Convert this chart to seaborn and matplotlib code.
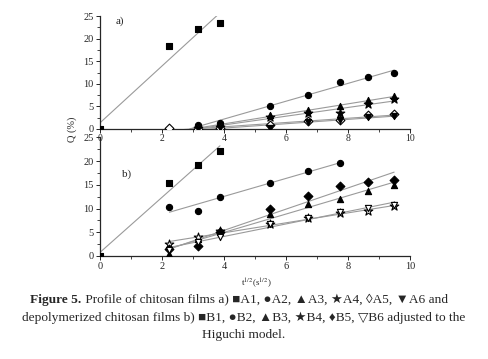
import numpy as np
import seaborn as sns
import matplotlib.pyplot as plt
from matplotlib.text import Annotation
from matplotlib.ticker import MultipleLocator

# sqrt(time) sampling points
t_half = [0, 2.24, 3.16, 3.87, 5.48, 6.71, 7.75, 8.66, 9.49]

# panel a) chitosan films
a1 = [0, 18.3, 22.1, 23.4]
a2 = [0.9, 1.3, 5.0, 7.6, 10.3, 11.5, 12.5]
a3 = [0.4, 0.6, 3.0, 4.2, 5.0, 6.4, 7.2]
a4 = [0.3, 0.5, 2.6, 3.6, 3.5, 5.6, 6.6]
a5 = [0.2, 0.0, 0.1, 0.8, 1.7, 1.9, 3.0, 3.3]
a6 = [0.0, 0.2, 0.3, 1.6, 2.0, 2.6, 2.8]

# panel b) depolymerized chitosan films
b1 = [0, 15.5, 19.3, 22.1]
b2 = [10.4, 9.4, 12.4, 15.5, 17.9, 19.7]
b3 = [0.5, 3.5, 5.0, 8.8, 11.0, 12.0, 13.7, 15.0]
b4 = [2.5, 4.0, 5.2, 6.7, 8.0, 9.0, 9.4, 10.5]
b5 = [1.5, 2.0, 5.0, 10.0, 12.7, 14.7, 15.7, 16.0]
b6 = [1.2, 3.0, 4.0, 6.8, 8.1, 9.2, 10.1, 10.8]

panel_a = {
    "A1": (t_half[:4], a1, "s", "black"),
    "A2": (t_half[2:], a2, "o", "black"),
    "A3": (t_half[2:], a3, "^", "black"),
    "A4": (t_half[2:], a4, "*", "black"),
    "A5": (t_half[1:], a5, "D", "white"),
    "A6": (t_half[2:], a6, "v", "black"),
}
panel_b = {
    "B1": (t_half[:4], b1, "s", "black"),
    "B2": (t_half[1:7], b2, "o", "black"),
    "B3": (t_half[1:], b3, "^", "black"),
    "B4": (t_half[1:], b4, "*", "white"),
    "B5": (t_half[1:], b5, "D", "black"),
    "B6": (t_half[1:], b6, "v", "white"),
}

sns.set_style("ticks")
serif = ["Liberation Serif", "DejaVu Serif", "DejaVu Sans"]
plt.rcParams["font.family"] = serif
plt.rcParams["mathtext.fontset"] = "stix"

fig = plt.figure(figsize=(4.88, 3.59), dpi=100)
ax_b = fig.add_axes([0.205, 0.287, 0.635, 0.330])
ax_a = fig.add_axes([0.205, 0.641, 0.635, 0.314])


def draw_panel(ax, series, label, label_pos, fit_from_root):
    for name, (x, q, marker, face) in series.items():
        x = np.asarray(x, dtype=float)
        q = np.asarray(q, dtype=float)
        slope, icpt = np.polyfit(x, q, 1)
        x0 = x.min()
        if fit_from_root and x0 > 0:
            root = -icpt / slope
            x0 = min(max(root, 2.24), x0)
        xl = np.array([x0, x.max()])
        sns.lineplot(x=xl, y=slope * xl + icpt, ax=ax, color="#9a9a9a",
                     linewidth=0.8, zorder=1)
        size = 42 if marker == "*" else 20
        sns.scatterplot(x=x, y=q, ax=ax, marker=marker, s=size,
                        facecolor=face, edgecolor="black", linewidth=0.8,
                        zorder=3, legend=False)
    ax.set_xlim(0, 10)
    ax.set_ylim(0, 25)
    ax.xaxis.set_major_locator(MultipleLocator(2))
    ax.xaxis.set_minor_locator(MultipleLocator(1))
    ax.yaxis.set_major_locator(MultipleLocator(5))
    ax.yaxis.set_minor_locator(MultipleLocator(2.5))
    ax.tick_params(which="major", length=3, width=0.7, labelsize=7.5, pad=1.5)
    ax.tick_params(which="minor", length=2, width=0.6)
    for s in ("left", "bottom"):
        ax.spines[s].set_linewidth(0.9)
    sns.despine(ax=ax)
    ax.set_xlabel("")
    ax.set_ylabel("")
    ax.patch.set_visible(False)
    ax.text(label_pos[0], label_pos[1], label, fontsize=8)


draw_panel(ax_a, panel_a, "a)", (0.5, 23.4), True)
draw_panel(ax_b, panel_b, "b)", (0.7, 16.8), False)
ax_a.tick_params(axis="x", labelsize=7, pad=0.5)

fig.text(0.148, 0.64, "Q (%)", rotation=90, fontsize=7.5, ha="center", va="center")
fig.text(0.525, 0.212, "t$^{1/2}$(s$^{1/2}$)", fontsize=6.5, ha="center", va="center")

cap_size = 9.6
t1 = fig.text(0.062, 0.155, "Figure 5.", fontsize=cap_size, fontweight="bold",
              va="baseline")
fig.add_artist(Annotation(
    " Profile of chitosan films a) \u25a0A1, \u25cfA2, \u25b2A3, \u2605A4, \u25caA5, \u25bcA6 and",
    xy=(1, 0), xycoords=t1, va="bottom", ha="left", fontsize=cap_size))
fig.text(0.5, 0.105,
         "depolymerized chitosan films b) \u25a0B1, \u25cfB2, \u25b2B3, \u2605B4, \u2666B5, \u25bdB6 adjusted to the",
         fontsize=cap_size, ha="center", va="baseline")
fig.text(0.5, 0.058, "Higuchi model.", fontsize=cap_size, ha="center", va="baseline")

fig.savefig("out.png", dpi=100)
